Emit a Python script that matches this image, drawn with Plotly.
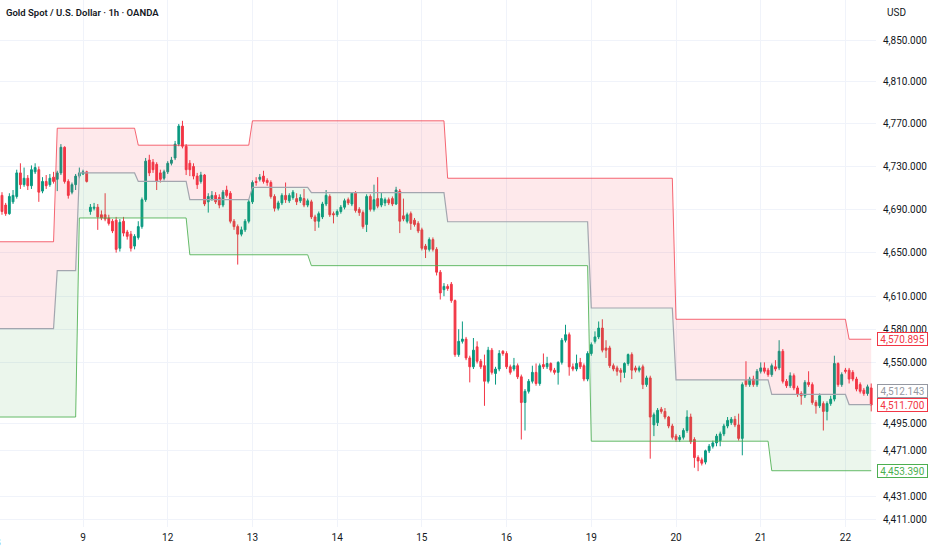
import math
import plotly.graph_objects as _go


# --------------------------------------------------------------------------------------------
# Gold spot / USD, 1h bars, one row per session (23 bars per day)
day_labels = ["8", "9", "12", "13", "14", "15", "16", "19", "20", "21", "22"]
bars_per_day = 23

opens = [
    4705, 4703, 4694, 4686, 4697, 4702, 4724, 4713, 4719, 4712, 4725, 4727, 4707, 4716, 4713, 4720, 4718, 4724, 4748, 4716, 4706, 4713, 4721,
    4723, 4725, 4688, 4691, 4692, 4685, 4685, 4682, 4679, 4680, 4654, 4679, 4669, 4667, 4656, 4664, 4674, 4699, 4736, 4734, 4732, 4724, 4719,
    4725, 4733, 4738, 4751, 4768, 4749, 4733, 4730, 4721, 4716, 4722, 4697, 4700, 4703, 4701, 4694, 4708, 4705, 4679, 4674, 4667, 4671, 4679,
    4697, 4716, 4718, 4721, 4717, 4715, 4702, 4691, 4696, 4703, 4698, 4701, 4700, 4698, 4700, 4694, 4697, 4683, 4679, 4683, 4695, 4702, 4686,
    4685, 4688, 4692, 4699, 4695, 4705, 4690, 4687, 4676, 4702, 4690, 4700, 4694, 4696, 4699, 4700, 4695, 4707, 4684, 4679, 4686, 4680, 4677,
    4671, 4656, 4653, 4662, 4653, 4632, 4616, 4619, 4621, 4606, 4557, 4569, 4571, 4554, 4546, 4564, 4551, 4547, 4533, 4561, 4540, 4544, 4560,
    4558, 4546, 4544, 4547, 4537, 4514, 4524, 4533, 4541, 4531, 4548, 4546, 4549, 4543, 4541, 4550, 4570, 4575, 4546, 4544, 4550, 4547, 4535,
    4558, 4569, 4573, 4581, 4563, 4563, 4547, 4545, 4543, 4541, 4549, 4557, 4545, 4543, 4546, 4530, 4536, 4494, 4496, 4508, 4506, 4501, 4493,
    4484, 4481, 4483, 4489, 4501, 4481, 4465, 4463, 4461, 4471, 4475, 4478, 4480, 4486, 4493, 4496, 4499, 4494, 4482, 4534, 4530, 4535, 4530,
    4542, 4545, 4543, 4539, 4546, 4545, 4560, 4533, 4529, 4538, 4527, 4522, 4520, 4532, 4530, 4514, 4511, 4513, 4506, 4513, 4517, 4549, 4530,
    4543, 4543, 4541, 4535, 4530, 4525, 4522, 4527,
]

highs = [
    4709, 4706, 4696, 4705, 4708, 4727, 4733, 4729, 4722, 4731, 4733, 4730, 4720, 4722, 4723, 4725, 4726, 4751, 4749, 4718, 4715, 4723, 4729,
    4727, 4726, 4695, 4696, 4695, 4689, 4705, 4685, 4681, 4683, 4681, 4683, 4671, 4670, 4667, 4679, 4701, 4738, 4741, 4737, 4734, 4727, 4727,
    4735, 4739, 4754, 4770, 4773, 4751, 4736, 4733, 4724, 4725, 4723, 4705, 4707, 4706, 4704, 4708, 4712, 4707, 4681, 4676, 4674, 4681, 4699,
    4717, 4720, 4723, 4726, 4719, 4717, 4704, 4698, 4705, 4715, 4705, 4708, 4705, 4704, 4709, 4700, 4699, 4685, 4688, 4697, 4708, 4704, 4688,
    4690, 4694, 4700, 4701, 4706, 4707, 4692, 4689, 4704, 4704, 4713, 4720, 4706, 4701, 4701, 4702, 4711, 4709, 4700, 4687, 4688, 4682, 4679,
    4673, 4658, 4664, 4664, 4655, 4634, 4622, 4621, 4623, 4607, 4580, 4587, 4573, 4556, 4572, 4569, 4553, 4557, 4564, 4563, 4546, 4561, 4561,
    4560, 4548, 4554, 4549, 4539, 4526, 4535, 4547, 4549, 4549, 4558, 4555, 4550, 4545, 4551, 4572, 4584, 4577, 4549, 4557, 4554, 4549, 4560,
    4568, 4578, 4587, 4589, 4570, 4565, 4549, 4547, 4545, 4550, 4558, 4559, 4547, 4547, 4548, 4538, 4538, 4505, 4509, 4510, 4509, 4502, 4495,
    4486, 4485, 4491, 4507, 4504, 4483, 4467, 4465, 4472, 4477, 4480, 4486, 4488, 4495, 4501, 4501, 4502, 4504, 4532, 4551, 4537, 4538, 4544,
    4550, 4550, 4545, 4549, 4552, 4570, 4562, 4535, 4541, 4540, 4529, 4524, 4534, 4542, 4532, 4516, 4522, 4515, 4515, 4520, 4556, 4550, 4541,
    4545, 4545, 4543, 4537, 4532, 4527, 4530, 4531,
]

lows = [
    4695, 4685, 4684, 4685, 4695, 4700, 4709, 4711, 4708, 4709, 4723, 4697, 4705, 4709, 4711, 4714, 4707, 4722, 4714, 4700, 4704, 4708, 4719,
    4722, 4715, 4685, 4689, 4671, 4680, 4679, 4675, 4668, 4650, 4651, 4665, 4662, 4651, 4653, 4662, 4672, 4697, 4721, 4724, 4708, 4715, 4717,
    4723, 4731, 4736, 4749, 4747, 4722, 4721, 4718, 4709, 4714, 4693, 4687, 4698, 4695, 4691, 4692, 4701, 4677, 4671, 4639, 4665, 4669, 4677,
    4695, 4712, 4716, 4714, 4712, 4700, 4688, 4689, 4694, 4696, 4696, 4699, 4694, 4696, 4692, 4692, 4681, 4670, 4673, 4681, 4693, 4683, 4677,
    4683, 4686, 4690, 4694, 4693, 4687, 4684, 4672, 4669, 4688, 4688, 4691, 4692, 4693, 4694, 4693, 4694, 4668, 4679, 4677, 4671, 4674, 4668,
    4652, 4645, 4651, 4651, 4629, 4607, 4610, 4615, 4604, 4555, 4555, 4567, 4552, 4532, 4544, 4549, 4544, 4511, 4531, 4539, 4530, 4542, 4556,
    4544, 4539, 4542, 4535, 4481, 4489, 4522, 4531, 4529, 4529, 4544, 4544, 4541, 4539, 4530, 4548, 4568, 4538, 4542, 4542, 4544, 4533, 4533,
    4556, 4567, 4571, 4559, 4554, 4545, 4542, 4538, 4532, 4536, 4547, 4535, 4541, 4541, 4526, 4528, 4464, 4484, 4493, 4504, 4499, 4491, 4481,
    4479, 4479, 4481, 4487, 4477, 4456, 4453, 4458, 4459, 4469, 4473, 4475, 4475, 4484, 4491, 4494, 4492, 4480, 4467, 4528, 4528, 4528, 4528,
    4540, 4540, 4537, 4537, 4542, 4543, 4531, 4527, 4527, 4525, 4519, 4512, 4518, 4528, 4512, 4504, 4509, 4489, 4498, 4511, 4515, 4528, 4528,
    4540, 4531, 4533, 4524, 4522, 4520, 4520, 4506,
]

closes = [
    4697, 4688, 4686, 4702, 4703, 4724, 4713, 4719, 4712, 4727, 4729, 4706, 4716, 4712, 4719, 4716, 4724, 4748, 4716, 4703, 4713, 4721, 4724,
    4725, 4716, 4692, 4692, 4683, 4682, 4681, 4677, 4670, 4653, 4678, 4668, 4665, 4654, 4665, 4674, 4699, 4735, 4724, 4727, 4716, 4718, 4725,
    4733, 4736, 4751, 4768, 4749, 4727, 4727, 4721, 4713, 4722, 4695, 4702, 4703, 4697, 4694, 4706, 4703, 4679, 4674, 4667, 4671, 4679, 4697,
    4715, 4715, 4720, 4716, 4715, 4702, 4691, 4696, 4703, 4699, 4703, 4706, 4697, 4701, 4694, 4698, 4683, 4679, 4686, 4695, 4703, 4685, 4685,
    4688, 4692, 4698, 4696, 4705, 4689, 4687, 4674, 4702, 4690, 4699, 4693, 4700, 4699, 4696, 4695, 4708, 4679, 4681, 4685, 4677, 4676, 4670,
    4654, 4653, 4662, 4653, 4632, 4613, 4619, 4617, 4606, 4557, 4569, 4571, 4554, 4546, 4561, 4551, 4546, 4533, 4561, 4541, 4544, 4558, 4558,
    4546, 4541, 4547, 4537, 4514, 4524, 4533, 4541, 4531, 4547, 4546, 4549, 4543, 4541, 4550, 4570, 4575, 4546, 4544, 4549, 4546, 4535, 4558,
    4566, 4573, 4581, 4561, 4561, 4547, 4544, 4542, 4541, 4549, 4557, 4543, 4543, 4545, 4530, 4536, 4501, 4503, 4507, 4506, 4501, 4493, 4483,
    4481, 4483, 4489, 4501, 4479, 4465, 4462, 4460, 4471, 4475, 4478, 4484, 4486, 4493, 4498, 4499, 4494, 4482, 4530, 4530, 4535, 4530, 4542,
    4545, 4542, 4539, 4547, 4544, 4560, 4533, 4529, 4538, 4527, 4521, 4520, 4532, 4530, 4514, 4511, 4520, 4506, 4513, 4517, 4549, 4530, 4539,
    4542, 4535, 4535, 4526, 4524, 4522, 4528, 4511.7,
]

# Channel levels and the bar at which each level starts
upper_levels = [4660, 4766, 4750, 4773, 4719, 4589, 4570.895]
upper_start = [0, 16, 38, 69, 122, 184, 231]
lower_levels = [4501, 4682, 4648, 4638, 4479.5, 4453.39]
lower_start = [0, 22, 52, 85, 161, 210]

price_ticks = [4850, 4810, 4770, 4730, 4690, 4650, 4610, 4580, 4550, 4495, 4471, 4431, 4411]

_up_color = "#089981"
_down_color = "#F23645"
_text_color = "#131722"
_grid_color = "#F0F3FA"
_font = "Roboto"


# --------------------------------------------------------------------------------------------
def _steps(levels, starts, n):
    """ Expands step levels into one value per bar. """
    out = []
    for k, lev in enumerate(levels):
        end = starts[k + 1] if k + 1 < len(starts) else n
        out += [lev] * (end - starts[k])
    return out


# --------------------------------------------------------------------------------------------
def _price_label(fig, value, color, yshift=0):
    """ Boxed price tag on the right scale (log axis -> position in log10 units). """
    fig.add_annotation(x=1, xref="paper", xanchor="left", xshift=1,
                       y=math.log10(value), yref="y", yshift=yshift,
                       text=f"{value + 1e-9:,.3f}", showarrow=False,
                       width=49, height=12, align="center",
                       font=dict(family=_font, size=10, color=color),
                       bgcolor="white", bordercolor=color, borderwidth=1, borderpad=0)


# --------------------------------------------------------------------------------------------
n = len(closes)
x = list(range(n))
upper = _steps(upper_levels, upper_start, n)
lower = _steps(lower_levels, lower_start, n)
basis = [(u + l) / 2 for u, l in zip(upper, lower)]

fig = _go.Figure()

fig.add_trace(_go.Scatter(x=x, y=upper, mode="lines", line=dict(color="rgba(242,54,69,0.75)", width=1),
                          hoverinfo="skip"))
fig.add_trace(_go.Scatter(x=x, y=basis, mode="lines", line=dict(color="#A3A6AF", width=1.2),
                          fill="tonexty", fillcolor="rgba(242,54,69,0.11)", hoverinfo="skip"))
fig.add_trace(_go.Scatter(x=x, y=lower, mode="lines", line=dict(color="rgba(76,175,80,0.85)", width=1),
                          fill="tonexty", fillcolor="rgba(76,175,80,0.11)", hoverinfo="skip"))

fig.add_trace(_go.Candlestick(x=x, open=opens, high=highs, low=lows, close=closes,
                              increasing=dict(line=dict(color=_up_color, width=1), fillcolor=_up_color),
                              decreasing=dict(line=dict(color=_down_color, width=1), fillcolor=_down_color),
                              whiskerwidth=0))

fig.update_layout(
    width=932, height=550,
    margin=dict(l=0, r=56, t=0, b=23),
    paper_bgcolor="white", plot_bgcolor="white",
    showlegend=False, boxgap=0.3,
    font=dict(family=_font, size=10, color=_text_color),
)

fig.update_xaxes(range=[0.46, 238.3], rangeslider_visible=False, automargin=False,
                 tickvals=[k * bars_per_day for k in range(len(day_labels))], ticktext=day_labels,
                 showgrid=True, gridcolor=_grid_color, zeroline=False, showline=False, ticks="",
                 ticklabelstandoff=3,
                 tickfont=dict(family=_font, size=10, color=_text_color))

# price scale is logarithmic (as on the source chart); range in log10 units
fig.update_yaxes(side="right", type="log", range=[3.643849, 3.689183], automargin=False,
                 tickvals=price_ticks, ticktext=[f"{v:,.3f}" for v in price_ticks],
                 showgrid=True, gridcolor=_grid_color, zeroline=False, showline=False, ticks="",
                 ticklabelstandoff=6,
                 tickfont=dict(family=_font, size=10, color=_text_color))

# Title, currency and the cut day label on the left edge
fig.add_annotation(x=0, xref="paper", xanchor="left", xshift=4, y=1, yref="paper", yanchor="top", yshift=-5,
                   text="Gold Spot / U.S. Dollar · 1h · OANDA", showarrow=False,
                   font=dict(family=_font, size=9.5, color=_text_color, weight=600))
fig.add_annotation(x=1, xref="paper", xanchor="left", xshift=9, y=1, yref="paper", yanchor="top", yshift=-5,
                   text="USD", showarrow=False, font=dict(family=_font, size=10, color=_text_color))
fig.add_annotation(x=0, xref="paper", xanchor="center", xshift=-2, y=0, yref="paper", yanchor="top", yshift=-8,
                   text=day_labels[0], showarrow=False, font=dict(family=_font, size=10, color=_text_color))

# Last values of the channel and the last price
_price_label(fig, upper[-1], "#F23645")
_price_label(fig, basis[-1], "#9598A1", yshift=14)
_price_label(fig, closes[-1], "#F23645")
_price_label(fig, lower[-1], "#4CAF50")

# the page's default body margin would push the fixed-size figure off the window
fig.write_html("out.html", config={"displayModeBar": False},
               post_script="document.body.style.margin = '0';")
